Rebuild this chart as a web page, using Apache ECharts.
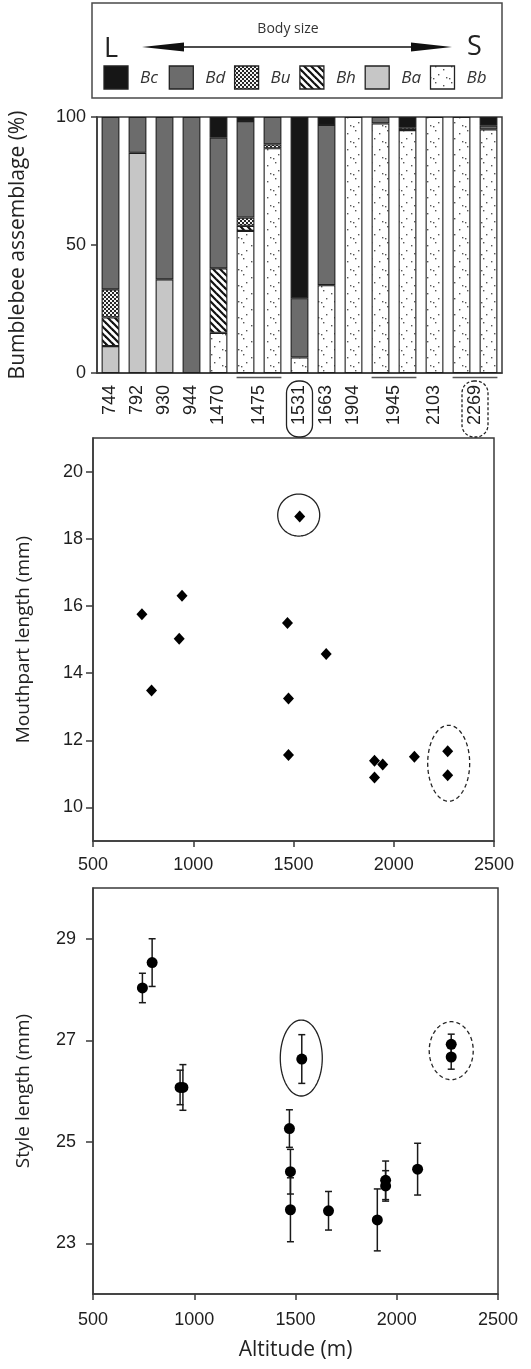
<!DOCTYPE html>
<html><head><meta charset="utf-8">
<script src="https://cdn.jsdelivr.net/npm/echarts@6/dist/echarts.min.js"></script>
<style>html,body{margin:0;padding:0;background:#fff}#c{width:531px;height:1369px}</style>
</head><body><div id="c"></div>
<script>
// ---------------- DATA ----------------
const barSites = ['744','792','930','944','1470','1475a','1475b','1531','1663','1904','1945a','1945b','2103','2269a','2269b'];
const siteLabels = ['744','792','930','944','1470','1475','1531','1663','1904','1945','2103','2269'];
const siteBarCounts = [1,1,1,1,1,2,1,1,1,2,1,2];
const legendOrder = ['Bc','Bd','Bu','Bh','Ba','Bb'];
// percentage of each species per bar (stack order bottom -> top: Bb, Ba, Bh, Bu, Bd, Bc)
const pctBb = [0, 0, 0, 0, 15.7, 55.5, 87.8, 6.1, 34.3, 100, 97.5, 94.9, 100, 100, 95.2];
const pctBa = [10.5, 86, 36.6, 0, 0, 0, 0, 0, 0, 0, 0, 0, 0, 0, 0];
const pctBh = [11.2, 0, 0, 0, 25.2, 2.0, 0, 0, 0, 0, 0, 0, 0, 0, 0];
const pctBu = [11.0, 0, 0, 0, 0, 3.2, 1.5, 0, 0, 0, 0, 0.9, 0, 0, 0];
const pctBd = [67.3, 14, 63.4, 100, 51.0, 37.7, 10.7, 23.1, 62.6, 0, 2.5, 0, 0, 0, 1.4];
const pctBc = [0, 0, 0, 0, 8.1, 1.6, 0, 70.8, 3.1, 0, 0, 4.2, 0, 0, 3.4];

const mouthAlt = [744, 792, 930, 944, 1470, 1475, 1475, 1531, 1663, 1904, 1904, 1945, 2103, 2269, 2269];
const mouthLen = [15.75, 13.48, 15.02, 16.30, 15.49, 13.24, 11.56, 18.66, 14.57, 11.39, 10.89, 11.28, 11.51, 11.67, 10.96];

const styleAlt = [744, 792, 930, 944, 1470, 1475, 1475, 1531, 1663, 1904, 1945, 1945, 2103, 2269, 2269];
const styleLen = [28.03, 28.53, 26.07, 26.07, 25.26, 24.41, 23.66, 26.63, 23.64, 23.46, 24.24, 24.13, 24.46, 26.92, 26.67];
const styleErr = [0.29, 0.47, 0.34, 0.45, 0.37, 0.44, 0.63, 0.48, 0.38, 0.61, 0.38, 0.30, 0.51, 0.20, 0.24];

const altTicks = [500, 1000, 1500, 2000, 2500];
const mouthTicks = [10, 12, 14, 16, 18, 20];
const styleTicks = [23, 25, 27, 29];
const pctTicks = [0, 50, 100];

// ---------------- PATTERNS ----------------
function mk(w, h, draw) { const c = document.createElement('canvas'); c.width = w; c.height = h; const g = c.getContext('2d'); draw(g, w, h); return c; }
const cvBu = mk(4, 4, g => { g.fillStyle = '#f4f4f4'; g.fillRect(0,0,4,4); g.fillStyle = '#262626'; g.fillRect(0,0,2,2); g.fillRect(2,2,2,2); });
const cvBh = mk(7, 7, (g, s) => { g.fillStyle = '#fff'; g.fillRect(0,0,s,s); g.strokeStyle = '#111'; g.lineWidth = 2.2;
  for (let k = -1; k <= 1; k++) { g.beginPath(); g.moveTo(-s, -s + k*s); g.lineTo(2*s, 2*s + k*s); g.stroke(); } });
const cvBb = mk(16, 16, g => { g.fillStyle = '#fff'; g.fillRect(0,0,16,16); g.fillStyle = '#555';
  [[3,2],[11,5],[6,10],[14,13],[1,14]].forEach(p => g.fillRect(p[0], p[1], 1.4, 1.4)); });
const fills = {
  Bc: '#161616',
  Bd: '#6c6c6c',
  Bu: { image: cvBu, repeat: 'repeat' },
  Bh: { image: cvBh, repeat: 'repeat' },
  Ba: '#c6c6c6',
  Bb: { image: cvBb, repeat: 'repeat' }
};
const stack = [['Bb', pctBb], ['Ba', pctBa], ['Bh', pctBh], ['Bu', pctBu], ['Bd', pctBd], ['Bc', pctBc]];

// ---------------- STYLE ----------------
const TICKF = 'Liberation Sans';
const TITLEF = 'Open Sans';
const axisLineStyle = { color: '#3a3a3a', width: 1.5 };
const plain = v => String(v);
const tickLabel = { fontFamily: TICKF, fontSize: 18, color: '#1e1e1e', formatter: plain };

const chart = echarts.init(document.getElementById('c'), null, { renderer: 'canvas' });

const option = {
  animation: false,
  backgroundColor: '#fff',
  grid: [
    { left: 93, top: 117, width: 409, height: 256, show: true, borderColor: '#3a3a3a', borderWidth: 1.5 },
    { left: 93, top: 438, width: 401, height: 403, show: true, borderColor: '#3a3a3a', borderWidth: 1.5 },
    { left: 93, top: 888, width: 405, height: 406, show: true, borderColor: '#3a3a3a', borderWidth: 1.5 }
  ],
  xAxis: [
    { gridIndex: 0, type: 'category', data: barSites, axisLabel: { show: false }, axisTick: { show: false },
      axisLine: { lineStyle: axisLineStyle } },
    { gridIndex: 1, type: 'value', min: 500, max: 2500, interval: 500, splitLine: { show: false },
      axisLine: { lineStyle: axisLineStyle }, axisTick: { length: 6, lineStyle: axisLineStyle },
      axisLabel: Object.assign({ margin: 15 }, tickLabel) },
    { gridIndex: 2, type: 'value', min: 500, max: 2500, interval: 500, splitLine: { show: false },
      axisLine: { lineStyle: axisLineStyle }, axisTick: { length: 6, lineStyle: axisLineStyle },
      axisLabel: Object.assign({ margin: 17 }, tickLabel),
      name: 'Altitude (m)', nameLocation: 'middle', nameGap: 46,
      nameTextStyle: { fontFamily: TITLEF, fontSize: 21, color: '#222' } }
  ],
  yAxis: [
    { gridIndex: 0, type: 'value', min: 0, max: 100, interval: 50, splitLine: { show: false },
      axisLine: { show: true, lineStyle: axisLineStyle }, axisTick: { show: true, length: 6, lineStyle: axisLineStyle },
      axisLabel: Object.assign({ margin: 11 }, tickLabel),
      name: 'Bumblebee assemblage (%)', nameLocation: 'middle', nameGap: 68,
      nameTextStyle: { fontFamily: TITLEF, fontSize: 21, color: '#222' } },
    { gridIndex: 1, type: 'value', min: 9, max: 21, splitLine: { show: false },
      axisLine: { show: true, lineStyle: axisLineStyle },
      axisTick: { show: true, length: 7, lineStyle: axisLineStyle, customValues: mouthTicks },
      axisLabel: Object.assign({ margin: 10, customValues: mouthTicks }, tickLabel),
      name: 'Mouthpart length (mm)', nameLocation: 'middle', nameGap: 60,
      nameTextStyle: { fontFamily: TITLEF, fontSize: 19, color: '#222' } },
    { gridIndex: 2, type: 'value', min: 22, max: 30, splitLine: { show: false },
      axisLine: { show: true, lineStyle: axisLineStyle },
      axisTick: { show: true, length: 7, lineStyle: axisLineStyle, customValues: styleTicks },
      axisLabel: Object.assign({ margin: 17, customValues: styleTicks }, tickLabel),
      name: 'Style length (mm)', nameLocation: 'middle', nameGap: 60,
      nameTextStyle: { fontFamily: TITLEF, fontSize: 19, color: '#222' } }
  ],
  series: stack.map(([name, arr]) => ({
    type: 'bar', name: name, stack: 'all', xAxisIndex: 0, yAxisIndex: 0,
    barCategoryGap: '34%',
    data: arr.map(v => v > 0 ? v : '-'),
    itemStyle: { color: fills[name], borderColor: '#1e1e1e', borderWidth: 1.1 }
  })).concat([
    { type: 'scatter', xAxisIndex: 1, yAxisIndex: 1, symbol: 'diamond', symbolSize: [11, 12],
      itemStyle: { color: '#000', opacity: 1 }, data: mouthAlt.map((a, i) => [a, mouthLen[i]]) },
    { type: 'custom', xAxisIndex: 2, yAxisIndex: 2, z: 3,
      data: styleAlt.map((a, i) => [a, styleLen[i], styleErr[i]]),
      renderItem: function (params, api) {
        const x = api.value(0), y = api.value(1), e = api.value(2);
        const top = api.coord([x, y + e]), bot = api.coord([x, y - e]);
        const st = { stroke: '#1a1a1a', lineWidth: 1.5 };
        return { type: 'group', children: [
          { type: 'line', shape: { x1: top[0], y1: top[1], x2: bot[0], y2: bot[1] }, style: st },
          { type: 'line', shape: { x1: top[0] - 3.5, y1: top[1], x2: top[0] + 3.5, y2: top[1] }, style: st },
          { type: 'line', shape: { x1: bot[0] - 3.5, y1: bot[1], x2: bot[0] + 3.5, y2: bot[1] }, style: st }
        ] };
      } },
    { type: 'scatter', xAxisIndex: 2, yAxisIndex: 2, symbol: 'circle', symbolSize: 11, z: 4,
      itemStyle: { color: '#000', opacity: 1 }, data: styleAlt.map((a, i) => [a, styleLen[i]]) }
  ])
};
chart.setOption(option);

// ---------------- ANNOTATIONS (positions via the chart's own scales) ----------------
const gfx = [];
// legend box
gfx.push({ type: 'rect', shape: { x: 92, y: 3, width: 410, height: 95 }, style: { fill: 'none', stroke: '#4a4a4a', lineWidth: 1.5 } });
gfx.push({ type: 'text', x: 288, y: 29, style: { text: 'Body size', fontFamily: TITLEF, fontSize: 14, fill: '#333', align: 'center', verticalAlign: 'middle' } });
gfx.push({ type: 'text', x: 104, y: 49, style: { text: 'L', fontFamily: TITLEF, fontSize: 27, fill: '#222', align: 'left', verticalAlign: 'middle' } });
gfx.push({ type: 'text', x: 467, y: 47, style: { text: 'S', fontFamily: TITLEF, fontSize: 27, fill: '#222', align: 'left', verticalAlign: 'middle' } });
gfx.push({ type: 'line', shape: { x1: 180, y1: 47, x2: 414, y2: 47 }, style: { stroke: '#111', lineWidth: 1.6 } });
gfx.push({ type: 'polygon', shape: { points: [[142, 47], [184, 42.5], [184, 51.5]] }, style: { fill: '#111' } });
gfx.push({ type: 'polygon', shape: { points: [[452, 47], [411, 42.5], [411, 51.5]] }, style: { fill: '#111' } });
legendOrder.forEach((sp, i) => {
  const x = 104 + i * 65.3;
  gfx.push({ type: 'rect', shape: { x: x, y: 66, width: 24, height: 23 }, style: { fill: fills[sp], stroke: '#222', lineWidth: 1.3 } });
  gfx.push({ type: 'text', x: x + 36, y: 78, style: { text: sp, fontFamily: TITLEF, fontStyle: 'italic', fontSize: 17, fill: '#333', align: 'left', verticalAlign: 'middle' } });
});

// bar-chart site labels
const pitch = chart.convertToPixel({ xAxisIndex: 0 }, barSites[1]) - chart.convertToPixel({ xAxisIndex: 0 }, barSites[0]);
const halfBar = pitch * 0.33;
const boxStyle = { '1531': null, '2269': [3, 2] };
let bi = 0;
siteLabels.forEach((lab, i) => {
  const n = siteBarCounts[i];
  const xa = chart.convertToPixel({ xAxisIndex: 0 }, barSites[bi]);
  const xb = chart.convertToPixel({ xAxisIndex: 0 }, barSites[bi + n - 1]);
  const xc = (xa + xb) / 2;
  gfx.push({ type: 'text', x: xc, y: 385, rotation: Math.PI / 2,
    style: { text: lab, fontFamily: TICKF, fontSize: 18, fill: '#1e1e1e', align: 'right', verticalAlign: 'middle' } });
  if (n > 1) {
    gfx.push({ type: 'line', shape: { x1: xa - halfBar, y1: 377.5, x2: xb + halfBar, y2: 377.5 }, style: { stroke: '#555', lineWidth: 1.6 } });
  }
  if (lab in boxStyle) {
    const dashed = boxStyle[lab];
    gfx.push({ type: 'rect', shape: { x: xc - 13, y: 381, width: 26, height: 56, r: 12 },
      style: { fill: 'none', stroke: '#222', lineWidth: 1.3, lineDash: dashed } });
  }
  bi += n;
});

// ellipses around highlighted sites
function ellipse(c, rx, ry, dashed) {
  const pts = [];
  for (let k = 0; k < 90; k++) { const a = k / 90 * 2 * Math.PI; pts.push([c[0] + rx * Math.cos(a), c[1] + ry * Math.sin(a)]); }
  return { type: 'polygon', z: 100, shape: { points: pts }, style: { fill: 'none', stroke: '#222', lineWidth: 1.3, lineDash: dashed ? [4, 3] : null } };
}
function centerOf(alts, vals, site, grid) {
  let sx = 0, sy = 0, n = 0;
  alts.forEach((a, i) => { if (a === site) { sx += a; sy += vals[i]; n++; } });
  return chart.convertToPixel({ gridIndex: grid }, [sx / n, sy / n]);
}
const m1 = centerOf(mouthAlt, mouthLen, 1531, 1);
gfx.push(ellipse([m1[0] - 1, m1[1] - 1.5], 21, 21, false));
const m2 = centerOf(mouthAlt, mouthLen, 2269, 1);
gfx.push(ellipse([m2[0] + 1, m2[1]], 21, 38, true));
const s1 = centerOf(styleAlt, styleLen, 1531, 2);
gfx.push(ellipse([s1[0] - 0.5, s1[1] - 1], 21, 38, false));
const s2 = centerOf(styleAlt, styleLen, 2269, 2);
gfx.push(ellipse([s2[0], s2[1]], 22, 29, true));

chart.setOption({ graphic: gfx });
</script>
</body></html>
